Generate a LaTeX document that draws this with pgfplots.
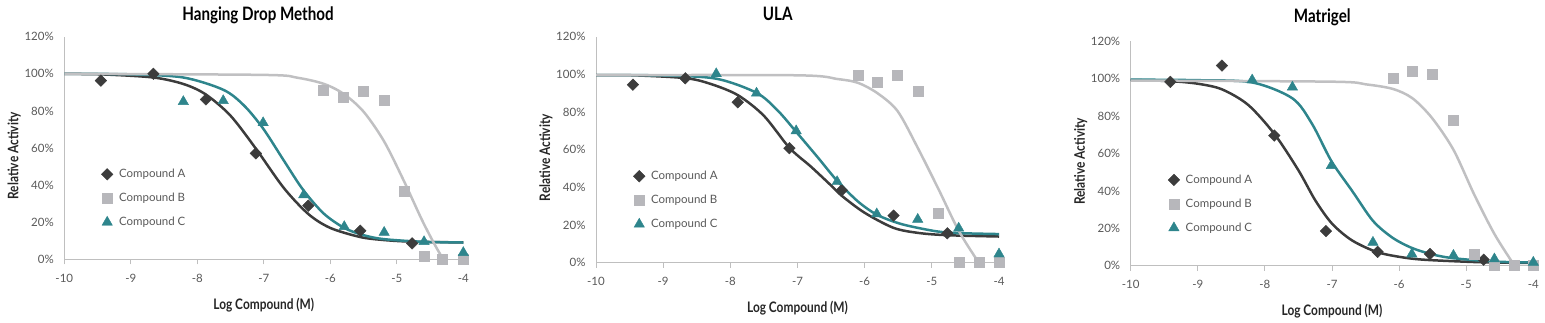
\documentclass[border=0pt]{standalone}
\usepackage{fontspec}
\setmainfont{Lato}
\newfontfamily\condfont[FakeStretch=0.82]{Lato}
\usepackage{pgfplots}
\pgfplotsset{compat=1.18}
\definecolor{cA}{RGB}{60,60,60}
\definecolor{cB}{RGB}{183,183,187}
\definecolor{cBl}{RGB}{192,192,194}
\definecolor{cC}{RGB}{46,133,140}
\definecolor{axisgray}{RGB}{191,191,191}
\definecolor{txtgray}{RGB}{89,89,89}
\pgfplotsset{
 panel/.style={
  scale only axis, anchor=south west,
  xmin=-10, xmax=-4, ymin=0, ymax=120,
  xtick={-10,-9,-8,-7,-6,-5,-4}, xticklabels={-10,-9,-8,-7,-6,-5,-4},
  ytick={0,20,40,60,80,100,120}, yticklabels={0\%,20\%,40\%,60\%,80\%,100\%,120\%},
  axis x line*=bottom, axis y line*=left,
  axis line style={draw=axisgray, line width=1pt, -},
  xtick style={draw=axisgray, line width=1pt},
  major tick length=5pt, tick align=outside,
  ytick style={draw=none},
  tick label style={font=\fontsize{11.5}{13}\selectfont, text=txtgray},
  xticklabel style={yshift=-6pt},
  yticklabel style={xshift=-2pt},
  xlabel={Log Compound (M)}, ylabel={Relative Activity},
  label style={font=\condfont\bfseries\fontsize{14.5}{16}\selectfont, text=black!85},
  xlabel style={at={(axis description cs:0.5,0)}, anchor=center, yshift=-45.7pt},
  ylabel style={at={(axis description cs:0,0.465)}, anchor=center, yshift=50pt},
  title style={font=\condfont\bfseries\fontsize{18.5}{20}\selectfont, anchor=base},
  legend style={draw=none, fill=none, font=\fontsize{11.5}{13}\selectfont, text=txtgray,
    anchor=north west, row sep=10pt, column sep=4pt},
  legend cell align=left,
 },
 fitA/.style={cA, line width=2.5pt, smooth, line cap=round, forget plot},
 fitB/.style={cBl, line width=2.5pt, smooth, line cap=round, forget plot},
 fitC/.style={cC, line width=2.5pt, smooth, line cap=round, forget plot},
 ptA/.style={only marks, mark=square*, mark size=4.1pt, mark options={rotate=45, fill=cA, draw=cA}},
 ptB/.style={only marks, mark=square*, mark size=5pt, mark options={fill=cB, draw=cB}},
 ptC/.style={only marks, mark=triangle*, mark size=6pt, mark options={fill=cC, draw=cC}},
}
\begin{document}
\begin{tikzpicture}
\useasboundingbox (0pt,0pt) rectangle (1545pt,323pt);
% ---------------- Panel 1 ----------------
\begin{axis}[panel, at={(64.3pt,63.7pt)}, width=399pt, height=222.6pt,
  title={Hanging Drop Method}, title style={at={(axis description cs:0.5,1)}, yshift=9.7pt, xshift=-5.8pt},
  legend style={at={(axis description cs:0.085,0.423)}}]
\addplot[fitA] coordinates {(-10,99.9) (-9.45,99.7) (-8.66,98.0) (-8.2,94.4) (-7.87,88.8) (-7.5,77.4) (-7.12,59.7) (-6.7,38.5) (-6.33,24.4) (-6.0,16.9) (-5.55,12.0) (-5.2,10.4) (-4.77,9.5) (-4,9.1)};
\addplot[fitC] coordinates {(-10,100) (-9,99.7) (-8.21,98.0) (-7.61,91.4) (-7.3,83) (-7.01,70.5) (-6.7,53.3) (-6.41,37.5) (-6.1,24.7) (-5.79,16.9) (-5.5,13.0) (-5.19,10.85) (-4.59,9.4) (-4,9.05)};
\addplot[fitB] coordinates {(-10,100) (-7,99.4) (-6.5,97.9) (-6.10,94.6) (-5.80,89.2) (-5.50,79.6) (-5.19,63.5) (-4.89,42.0) (-4.59,18.9) (-4.31,0.6) (-4.0,-13.5)};
\addplot[ptA] coordinates {(-9.45,96.3) (-8.66,100) (-7.87,86.2) (-7.12,57.1) (-6.33,28.9) (-5.55,15.4) (-4.77,8.6)};
\addlegendentry{Compound A}
\addplot[ptB] coordinates {(-6.10,91.3) (-5.80,87.3) (-5.50,90.7) (-5.19,85.7) (-4.89,36.5) (-4.59,1.5) (-4.31,0.3) (-4.0,0.2)};
\addlegendentry{Compound B}
\addplot[ptC] coordinates {(-8.21,85) (-7.61,85.5) (-7.01,73.6) (-6.40,34.7) (-5.79,17.6) (-5.19,14.5) (-4.59,9.5) (-4.0,3.6)};
\addlegendentry{Compound C}
\end{axis}
% ---------------- Panel 2 ----------------
\begin{axis}[panel, at={(596pt,60.3pt)}, width=403pt, height=226pt,
  title={ULA}, title style={at={(axis description cs:0.5,1)}, yshift=9.7pt, xshift=-19.8pt},
  legend style={at={(axis description cs:0.085,0.423)}}]
\addplot[fitA] coordinates {(-10,99.6) (-9.45,99.5) (-8.67,98) (-8.3,95) (-7.89,89) (-7.5,78) (-7.12,61) (-6.8,51) (-6.5,41) (-6.34,35.5) (-6.0,26.5) (-5.57,18.5) (-5.2,15.8) (-4.77,14.6) (-4,13.9)};
\addplot[fitC] coordinates {(-10,99.6) (-9,99.4) (-8.21,97.7) (-7.61,90.2) (-7.3,81) (-7.02,69.5) (-6.7,56) (-6.41,43.5) (-6.1,32.5) (-5.82,25.5) (-5.5,21) (-5.21,18.5) (-4.9,16.5) (-4.60,15.7) (-4.0,15.2)};
\addplot[fitB] coordinates {(-10,99.6) (-7,99.5) (-6.4,97.5) (-6.10,95.5) (-5.81,90) (-5.51,80.5) (-5.21,61) (-4.90,39) (-4.60,17) (-4.30,0) (-4.0,-15)};
\addplot[ptA] coordinates {(-9.45,94.5) (-8.67,97.9) (-7.89,85.2) (-7.12,60.8) (-6.34,38.5) (-5.57,25.0) (-4.77,15.6)};
\addlegendentry{Compound A}
\addplot[ptB] coordinates {(-6.10,99.6) (-5.81,95.6) (-5.51,99.6) (-5.21,91.1) (-4.90,26.2) (-4.60,0.5) (-4.30,0.5) (-4.0,0.3)};
\addlegendentry{Compound B}
\addplot[ptC] coordinates {(-8.21,100.3) (-7.61,90) (-7.02,70) (-6.41,43) (-5.82,25.9) (-5.21,23) (-4.60,18.3) (-4.0,4.6)};
\addlegendentry{Compound C}
\end{axis}
% ---------------- Panel 3 ----------------
\begin{axis}[panel, at={(1130.7pt,57.3pt)}, width=402.6pt, height=224.4pt,
  title={Matrigel}, title style={at={(axis description cs:0.5,1)}, yshift=12.8pt, xshift=-9.7pt},
  legend style={at={(axis description cs:0.085,0.423)}}]
\addplot[fitA] coordinates {(-10,99.3) (-9.41,98.7) (-9.0,97.3) (-8.64,94.3) (-8.25,86) (-7.86,70.5) (-7.5,51) (-7.25,35) (-7.0,22.5) (-6.7,13.5) (-6.32,7.2) (-5.9,4.2) (-5.54,3) (-4.74,1.8) (-4,1.5)};
\addplot[fitC] coordinates {(-10,99.5) (-9,99.2) (-8.19,98) (-7.59,89.5) (-7.3,76) (-7.01,56) (-6.7,40) (-6.39,24) (-6.1,15) (-5.81,9.5) (-5.5,6) (-5.19,4) (-4.58,2.2) (-4.0,1.7)};
\addplot[fitB] coordinates {(-10,99) (-7,98.4) (-6.5,97) (-6.09,94.5) (-5.80,89.5) (-5.51,79) (-5.19,62) (-4.88,38) (-4.58,17) (-4.28,0) (-4.0,-15)};
\addplot[ptA] coordinates {(-9.41,98.3) (-8.64,107) (-7.86,69.6) (-7.09,18.5) (-6.32,7.4) (-5.54,6.3) (-4.74,3.2)};
\addlegendentry{Compound A}
\addplot[ptB] coordinates {(-6.09,100.4) (-5.80,104) (-5.51,102.3) (-5.19,77.6) (-4.88,6.2) (-4.58,0.5) (-4.28,0.5) (-4.0,0.5)};
\addlegendentry{Compound B}
\addplot[ptC] coordinates {(-8.19,99.3) (-7.59,95.5) (-7.01,53.5) (-6.39,12.5) (-5.81,6.2) (-5.19,5.5) (-4.58,3.6) (-4.0,1.8)};
\addlegendentry{Compound C}
\end{axis}
\end{tikzpicture}
\end{document}
